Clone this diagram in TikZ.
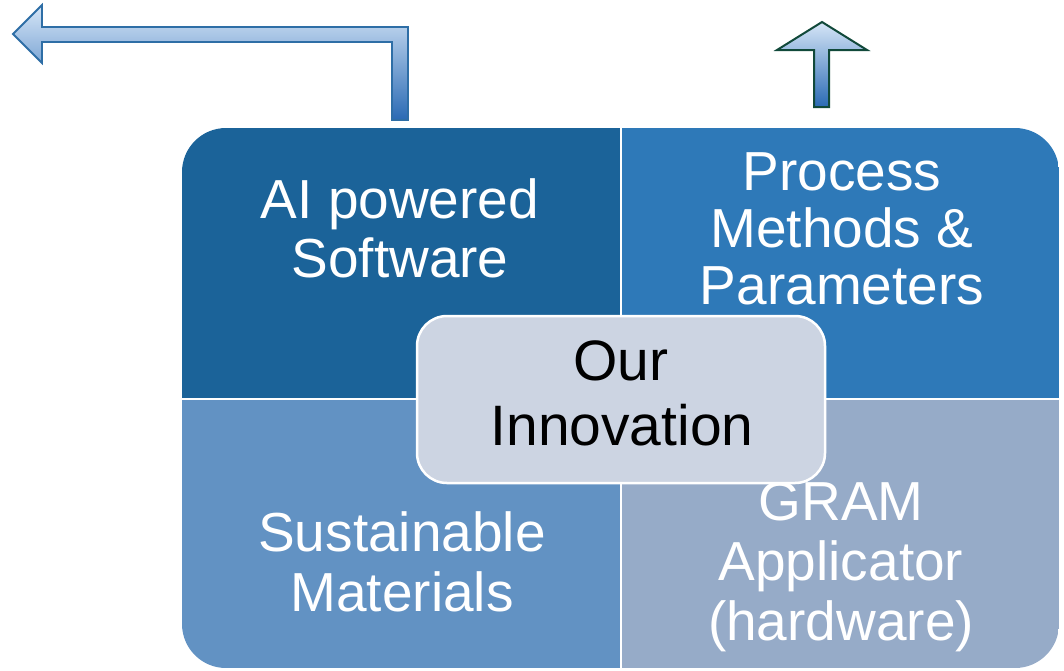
\documentclass[tikz,border=0pt]{standalone}
\usepackage{fontspec}
\setmainfont{Liberation Sans}
\definecolor{tlc}{RGB}{27,99,153}
\definecolor{trc}{RGB}{46,121,184}
\definecolor{blc}{RGB}{98,146,195}
\definecolor{brc}{RGB}{150,171,200}
\definecolor{ctc}{RGB}{204,212,226}
\definecolor{arrowedge}{RGB}{46,110,166}
\definecolor{greenedge}{RGB}{17,73,58}
\definecolor{shadelight}{RGB}{214,230,247}
\definecolor{shademid}{RGB}{130,178,226}
\definecolor{shadedark}{RGB}{42,106,180}
\tikzset{
  quadtext/.style={anchor=base, inner sep=0pt, text=white, font=\fontsize{55}{59}\selectfont},
  centertext/.style={anchor=base, inner sep=0pt, text=black, font=\fontsize{57}{60}\selectfont},
  bentarrow/.style={draw=arrowedge, line width=1.8pt, line join=miter, top color=shadelight, middle color=shademid, bottom color=shadedark},
  uparrow/.style={draw=greenedge, line width=2pt, line join=miter, top color=shadelight, middle color=shademid, bottom color=shadedark},
  centerbox/.style={draw=white, line width=2.5pt, fill=ctc, rounded corners=30pt, minimum width=408pt, minimum height=167pt, inner sep=0pt}
}
\begin{document}
\begin{tikzpicture}[x=1pt,y=-1pt]
\useasboundingbox (0,0) rectangle (1064,670);
% quadrants
\begin{scope}
  \clip[rounded corners=44pt] (182,128) rectangle (1059,668);
  \fill[tlc] (182,128) rectangle (620,398);
  \fill[trc] (622,128) rectangle (1059,398);
  \fill[blc] (182,400) rectangle (620,668);
  \fill[brc] (622,400) rectangle (1059,668);
\end{scope}
% arrows
\filldraw[bentarrow] (408,120) -- (408,27) -- (42,27) -- (42,5) -- (13,34) -- (42,63) -- (42,42) -- (392,42) -- (392,120) -- cycle;
\filldraw[uparrow] (822,22) -- (867,50) -- (829,50) -- (829,107) -- (814,107) -- (814,50) -- (777,50) -- cycle;
% quadrant texts
\node[quadtext] (tla) at (400,218) {AI powered};
\node[quadtext] (tlb) at (400,277) {Software};
\node[quadtext] (tra) at (842,190) {Process};
\node[quadtext] (trb) at (842,247) {Methods \&};
\node[quadtext] (trc) at (842,304) {Parameters};
\node[quadtext] (bla) at (402,551) {Sustainable};
\node[quadtext] (blb) at (402,611) {Materials};
\node[quadtext] (bra) at (841,520) {GRAM};
\node[quadtext] (brb) at (841,580) {Applicator};
\node[quadtext] (brc) at (841,640) {(hardware)};
% center
\node[centerbox] (center) at (621,399.5) {};
\node[centertext] (ca) at (621,380) {Our};
\node[centertext] (cb) at (622,445) {Innovation};
\end{tikzpicture}
\end{document}
